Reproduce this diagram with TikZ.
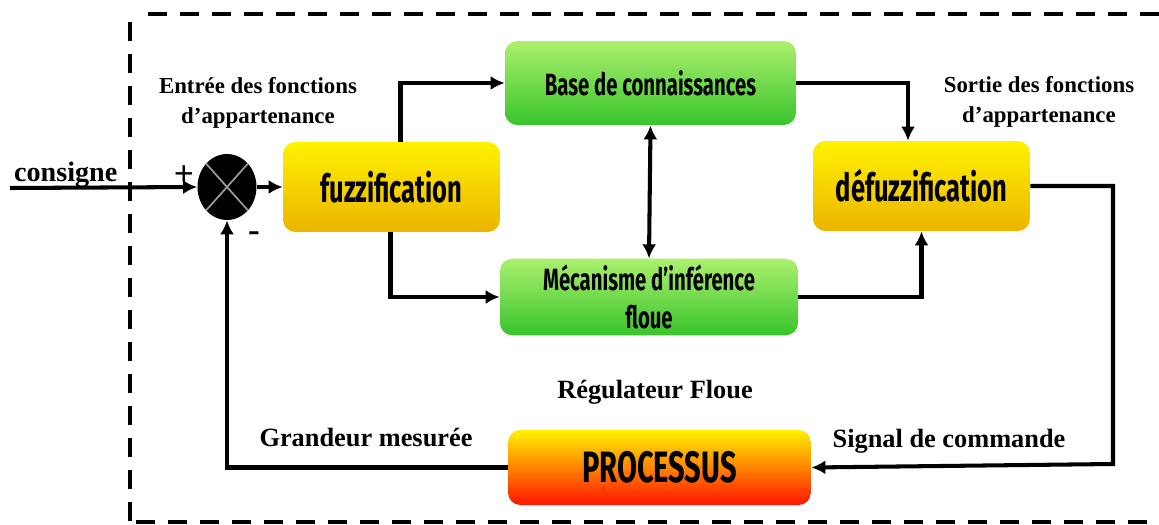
\documentclass[tikz,border=0pt]{standalone}
\usepackage{fontspec}
\setmainfont{Liberation Serif}
\newfontfamily\blocfont[FakeStretch=0.66]{Fira Sans}
\usetikzlibrary{arrows.meta,shapes.geometric}

\definecolor{jauneH}{RGB}{255,242,0}
\definecolor{jauneB}{RGB}{236,180,0}
\definecolor{vertH}{RGB}{172,240,110}
\definecolor{vertB}{RGB}{56,196,44}
\definecolor{orangeM}{RGB}{255,160,0}
\definecolor{rougeB}{RGB}{255,20,0}

\tikzset{
  bloc/.style={rounded corners=7pt, align=center, text=black,
    font=\blocfont\bfseries\fontsize{17.5}{22}\selectfont},
  fuzz/.style={bloc, top color=jauneH, bottom color=jauneB,
    minimum width=4.34cm, minimum height=1.8cm,
    font=\blocfont\bfseries\fontsize{22}{26}\selectfont},
  regle/.style={bloc, top color=vertH, bottom color=vertB},
  etiq/.style={align=center, font=\bfseries\fontsize{13}{17}\selectfont},
  grand/.style={font=\bfseries\fontsize{15}{18}\selectfont},
  fleche/.style={line width=2.3pt, -{Latex[length=8pt,width=8pt]}},
  cadre/.style={line width=2.2pt, dash pattern=on 0.38cm off 0.26cm},
}

\begin{document}
\begin{tikzpicture}[x=0.02cm,y=-0.02cm]
        \useasboundingbox[fill=white] (0,0) rectangle (1159,524);

        \draw[cadre] (1159,14) -- (136,14);
        \draw[cadre] (130,22) -- (130,524);
        \draw[cadre] (136,522) -- (1159,522);

        \node[fuzz] (fuzzi) at (391.5,187) {fuzzification};
        \node[fuzz] (defuzzi) at (921.5,186) {défuzzification};
        \node[regle, minimum width=5.82cm, minimum height=1.68cm] (base) at (650.5,83) {Base de connaissances};
        \node[regle, minimum width=5.96cm, minimum height=1.4cm] (meca) at (649,297) {Mécanisme d’inférence\\floue};
        \node[bloc, top color=jauneH, middle color=orangeM, bottom color=rougeB,
              minimum width=6.06cm, minimum height=1.5cm,
              font=\blocfont\bfseries\fontsize{25}{28}\selectfont] (proc) at (659.5,467.5) {PROCESSUS};

        \node[ellipse, fill=black, minimum width=1.18cm, minimum height=1.32cm, inner sep=0pt,
              path picture={\draw[gray!80, line width=1pt]
                (path picture bounding box.north west) -- (path picture bounding box.south east)
                (path picture bounding box.south west) -- (path picture bounding box.north east);}] (som) at (227,187) {};

        \coordinate (entree) at (10,188);
        \node[grand, font=\bfseries\fontsize{16}{18}\selectfont, anchor=base west] (consigne) at (8,181) {consigne};
        \node[font=\bfseries\fontsize{20}{20}\selectfont] (plus) at (184,176) {+};
        \node[font=\bfseries\fontsize{20}{20}\selectfont] (moins) at (254,237) {-};

        \node[etiq] (lentree) at (258,103) {Entrée des fonctions\\d’appartenance};
        \node[etiq] (lsortie) at (1039,102) {Sortie des fonctions\\d’appartenance};
        \node[grand] (regul) at (655,392) {Régulateur Floue};
        \node[grand] (mesure) at (366,437) {Grandeur mesurée};
        \node[grand] (cmd) at (949,441) {Signal de commande};

        \draw[fleche] (entree) -- (som.west);
        \draw[fleche] (som.east) -- (fuzzi.west);
        \draw[fleche] ([xshift=0.18cm]fuzzi.north) |- (base.west);
        \draw[fleche] ([xshift=-0.02cm]fuzzi.south) |- (meca.west);
        \draw[fleche] (base.east) -| ([xshift=-0.27cm]defuzzi.north);
        \draw[fleche] (meca.east) -| (defuzzi.south);
        \draw[line width=2.3pt, {Latex[length=8pt,width=8pt]}-{Latex[length=8pt,width=8pt]}] (base.south) -- (meca.north);
        \draw[fleche] (defuzzi.east) -| (1113,464) -- (proc.east);
        \draw[fleche] (proc.west) -| (som.south);
\end{tikzpicture}
\end{document}
